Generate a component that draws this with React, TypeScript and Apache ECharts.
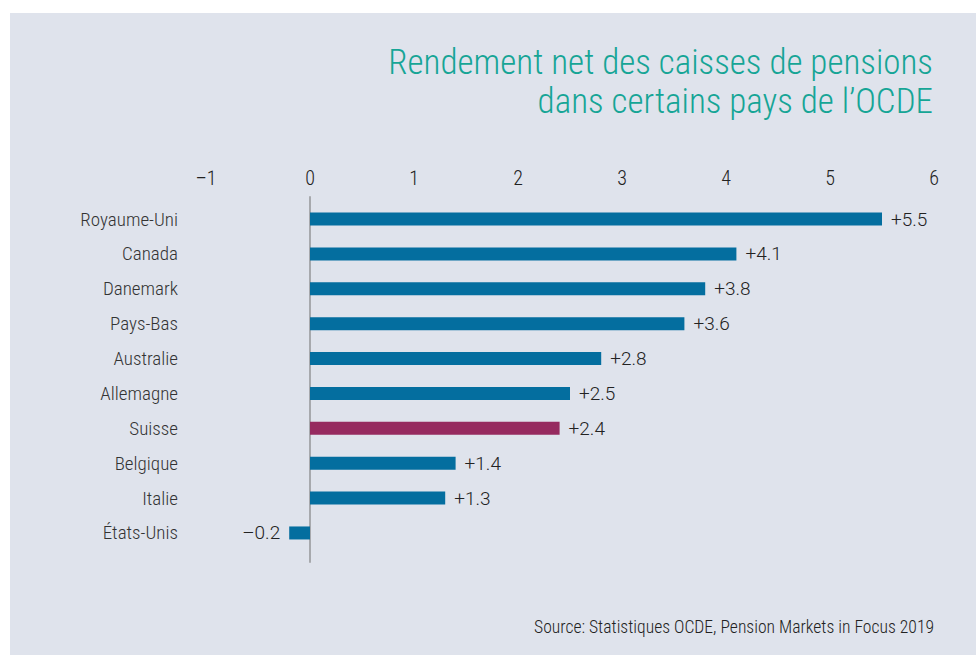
import React, { useEffect, useRef } from "react";
import * as echarts from "echarts";

const categories = [
  "Royaume-Uni",
  "Canada",
  "Danemark",
  "Pays-Bas",
  "Australie",
  "Allemagne",
  "Suisse",
  "Belgique",
  "Italie",
  "États-Unis",
];
const values = [5.5, 4.1, 3.8, 3.6, 2.8, 2.5, 2.4, 1.4, 1.3, -0.2];
const highlighted = ["Suisse"];
const titleLines = ["Rendement net des caisses de pensions", "dans certains pays de l’OCDE"];
const sourceText = "Source: Statistiques OCDE, Pension Markets in Focus 2019";
const axisMin = -1;
const axisMax = 6;

const BLUE = "#046e9f";
const PURPLE = "#962a5f";
const TEAL = "#16a596";
const BG = "#dfe3ec";
const NARROW = "'Roboto Condensed', 'Liberation Sans Narrow', Roboto, sans-serif";
const REGULAR = "Roboto, 'Liberation Sans', sans-serif";

const fmtSigned = (v: number) => (v < 0 ? "–" + Math.abs(v).toFixed(1) : "+" + v.toFixed(1));
const fmtTick = (v: number) => (v < 0 ? "–" + Math.abs(v) : String(v));

export default function App() {
  const ref = useRef<HTMLDivElement>(null);
  useEffect(() => {
    if (!ref.current) return;
    const chart = echarts.init(ref.current, null, { renderer: "svg" });
    const data = values.map((v, i) => ({
      value: v,
      itemStyle: { color: highlighted.includes(categories[i]) ? PURPLE : BLUE },
      label: { position: v < 0 ? "left" : "right" },
    }));
    chart.setOption({
      animation: false,
      backgroundColor: "#ffffff",
      textStyle: { fontFamily: NARROW },
      graphic: [
        {
          type: "rect",
          z: -10,
          shape: { x: 10, y: 13, width: 966, height: 642 },
          style: { fill: BG },
        },
        {
          type: "text",
          right: 43,
          top: 43,
          style: {
            text: titleLines.join("\n"),
            fill: TEAL,
            font: `300 35px ${NARROW}`,
            textAlign: "right",
            lineHeight: 39,
          },
        },
        {
          type: "text",
          right: 42,
          top: 618,
          style: {
            text: sourceText,
            fill: "#222",
            font: `300 17.6px ${NARROW}`,
            textAlign: "right",
          },
        },
      ],
      grid: [
        { left: 206, right: 42, top: 201.6, bottom: 104.6, containLabel: false },
        { left: 206, right: 42, top: 197, bottom: 93, containLabel: false },
      ],
      xAxis: [
        {
          gridIndex: 0,
          type: "value",
          position: "top",
          min: axisMin,
          max: axisMax,
          interval: 1,
          axisLine: { show: false },
          axisTick: { show: false },
          splitLine: { show: false },
          axisLabel: {
            formatter: fmtTick,
            color: "#222",
            fontSize: 20,
            fontWeight: 300,
            margin: 14,
            fontFamily: NARROW,
          },
        },
        {
          gridIndex: 1,
          type: "value",
          min: axisMin,
          max: axisMax,
          show: false,
        },
      ],
      yAxis: [
        {
          gridIndex: 0,
          type: "category",
          data: categories,
          inverse: true,
          axisLine: { show: false },
          axisTick: { show: false },
          axisLabel: {
            color: "#333",
            fontSize: 19,
            fontWeight: 300,
            margin: 28,
            fontFamily: NARROW,
          },
        },
        {
          gridIndex: 1,
          type: "value",
          min: 0,
          max: 1,
          axisLine: { show: true, onZero: true, lineStyle: { color: "#a7a9ad", width: 2 } },
          axisTick: { show: false },
          axisLabel: { show: false },
          splitLine: { show: false },
        },
      ],
      series: [
        {
          type: "bar",
          xAxisIndex: 0,
          yAxisIndex: 0,
          data,
          barWidth: 13,
          z: 3,
          label: {
            show: true,
            formatter: (p: any) => fmtSigned(p.value),
            color: "#222",
            fontSize: 19,
            fontWeight: 300,
            distance: 9,
            fontFamily: REGULAR,
          },
        },
      ],
    });
    return () => chart.dispose();
  }, []);
  return (
    <div
      ref={ref}
      style={{ position: "fixed", left: 0, top: 0, width: 976, height: 655 }}
    />
  );
}
